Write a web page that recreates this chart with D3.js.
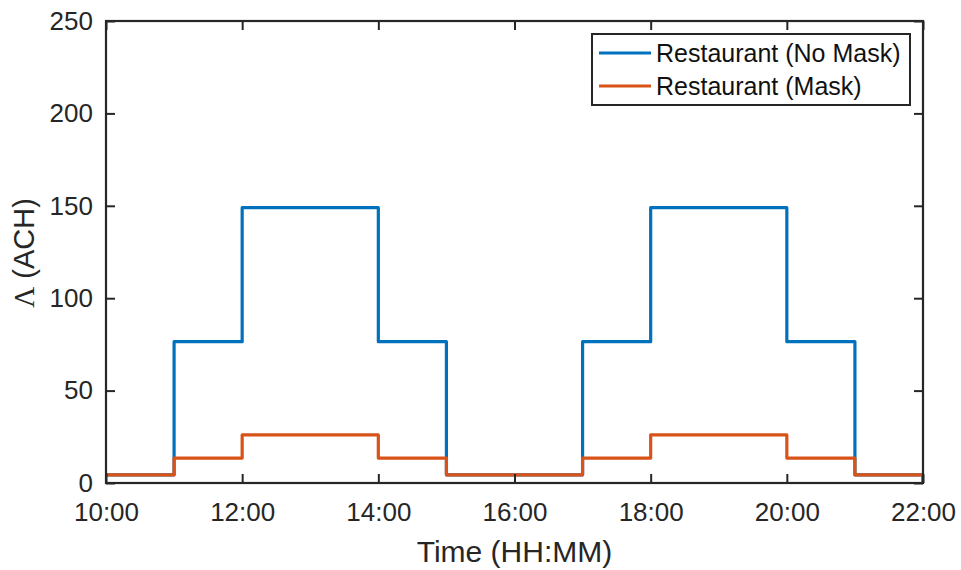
<!DOCTYPE html>
<html>
<head>
<meta charset="utf-8">
<script src="https://cdn.jsdelivr.net/npm/d3@7"></script>
<style>
  html, body { margin: 0; padding: 0; background: #fff; }
  svg { display: block; font-family: Arial, "Liberation Sans", sans-serif; }
</style>
</head>
<body>
<svg id="chart" width="961" height="570"></svg>
<script>
// Hour of day at each step change (stairs, value holds until next time)
const hours = [10, 11, 12, 14, 15, 17, 18, 20, 21, 22];
// Air changes per hour for each scenario
const noMask = [4.4, 76.5, 149, 76.5, 4.4, 76.5, 149, 76.5, 4.4, 0];
const mask   = [4.4, 13.5, 26, 13.5, 4.4, 13.5, 26, 13.5, 4.4, 0];
const seriesNames = ["Restaurant (No Mask)", "Restaurant (Mask)"];
const seriesColors = ["#0072BD", "#D95319"];
const xTicks = [10, 12, 14, 16, 18, 20, 22];
const xTickLabels = ["10:00", "12:00", "14:00", "16:00", "18:00", "20:00", "22:00"];
const yTicks = [0, 50, 100, 150, 200, 250];

const svg = d3.select("#chart");
const m = { left: 106, right: 923, top: 21, bottom: 483 };
const axisColor = "#262626";

const x = d3.scaleLinear().domain([10, 22]).range([m.left, m.right]);
const y = d3.scaleLinear().domain([0, 250]).range([m.bottom, m.top]);

svg.append("defs").append("clipPath").attr("id", "plot-clip")
  .append("rect").attr("x", m.left).attr("y", m.top - 2)
  .attr("width", m.right - m.left).attr("height", m.bottom - m.top + 2);

// Series lines
const line = d3.line().x(d => x(d[0])).y(d => y(d[1])).curve(d3.curveStepAfter);
[noMask, mask].forEach((vals, i) => {
  svg.append("path")
    .datum(hours.map((h, k) => [h, vals[k]]))
    .attr("clip-path", "url(#plot-clip)")
    .attr("fill", "none")
    .attr("stroke", seriesColors[i])
    .attr("stroke-width", 3.2)
    .attr("stroke-linejoin", "round")
    .attr("d", line);
});

// Axes: ticks pointing inward on all four sides
const tickLen = 9;
const xAxisB = d3.axisBottom(x).tickValues(xTicks).tickFormat((d, i) => xTickLabels[i])
  .tickSizeInner(-tickLen).tickSizeOuter(0).tickPadding(20);
const xAxisT = d3.axisTop(x).tickValues(xTicks).tickFormat("").tickSizeInner(-tickLen).tickSizeOuter(0);
const yAxisL = d3.axisLeft(y).tickValues(yTicks).tickSizeInner(-tickLen).tickSizeOuter(0).tickPadding(13);
const yAxisR = d3.axisRight(y).tickValues(yTicks).tickFormat("").tickSizeInner(-tickLen).tickSizeOuter(0);

function styleAxis(g) {
  g.select(".domain").remove();
  g.selectAll(".tick line").attr("stroke", axisColor).attr("stroke-width", 2);
  g.selectAll(".tick text").attr("fill", axisColor).attr("font-size", 26)
    .attr("font-family", "Arial, 'Liberation Sans', sans-serif");
}
svg.append("g").attr("transform", `translate(0,${m.bottom})`).call(xAxisB).call(styleAxis);
svg.append("g").attr("transform", `translate(0,${m.top})`).call(xAxisT).call(styleAxis);
svg.append("g").attr("transform", `translate(${m.left},0)`).call(yAxisL).call(styleAxis);
svg.append("g").attr("transform", `translate(${m.right},0)`).call(yAxisR).call(styleAxis);

// Box
svg.append("rect")
  .attr("x", m.left).attr("y", m.top)
  .attr("width", m.right - m.left).attr("height", m.bottom - m.top)
  .attr("fill", "none").attr("stroke", axisColor).attr("stroke-width", 2.2);

// Axis titles
svg.append("text")
  .attr("x", (m.left + m.right) / 2).attr("y", 562)
  .attr("text-anchor", "middle").attr("font-size", 30).attr("fill", axisColor)
  .text("Time (HH:MM)");
const yTitle = svg.append("text")
  .attr("transform", `translate(34,253) rotate(-90)`)
  .attr("text-anchor", "middle").attr("font-size", 29).attr("fill", axisColor);
yTitle.append("tspan").attr("font-family", "'Liberation Serif', 'DejaVu Serif', serif").text("Λ");
yTitle.append("tspan").text(" (ACH)");

// Legend
const lg = svg.append("g");
lg.append("rect").attr("x", 592).attr("y", 34).attr("width", 318).attr("height", 71)
  .attr("fill", "#fff").attr("stroke", axisColor).attr("stroke-width", 2);
seriesNames.forEach((name, i) => {
  const cy = 53 + i * 33;
  lg.append("line").attr("x1", 599).attr("x2", 651).attr("y1", cy).attr("y2", cy)
    .attr("stroke", seriesColors[i]).attr("stroke-width", 3.2);
  lg.append("text").attr("x", 656).attr("y", cy).attr("dy", "0.35em")
    .attr("font-size", 25).attr("fill", "#111").text(name);
});
</script>
</body>
</html>
